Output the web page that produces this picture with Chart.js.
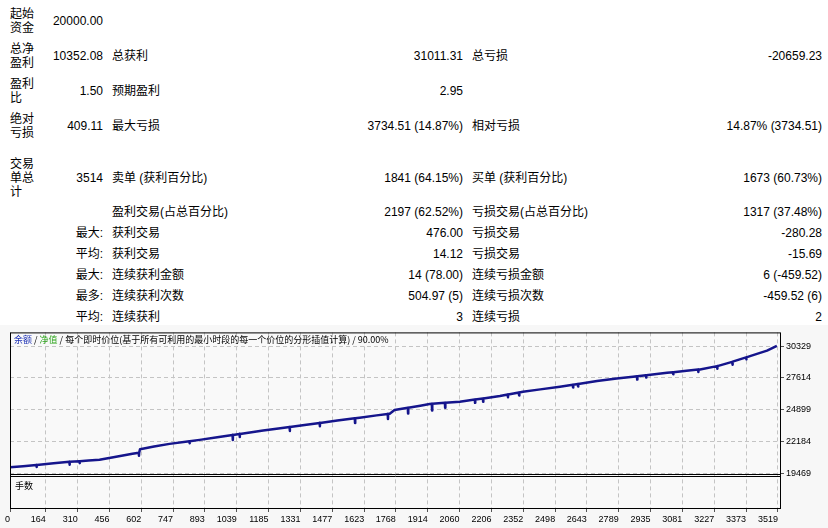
<!DOCTYPE html>
<html>
<head>
<meta charset="utf-8">
<script src="https://cdn.jsdelivr.net/npm/chart.js@4.4.1/dist/chart.umd.min.js"></script>
<style>
  html, body { margin: 0; padding: 0; background: #fff; }
  body { width: 828px; height: 528px; position: relative; overflow: hidden;
         font-family: "Liberation Sans", "Noto Sans CJK SC", sans-serif; font-size: 12px; color: #000; }
  #stats { position: absolute; left: 10px; top: 3px; border-collapse: collapse; table-layout: fixed; width: 818px; }
  #stats td { padding: 0; vertical-align: middle; white-space: nowrap; line-height: 14px; }
  #stats td.lab div { width: 26px; white-space: normal; }
  #stats td.v1 { text-align: right; padding-right: 4px; }
  #stats td.l2 { padding-left: 5px; }
  #stats td.v2 { text-align: right; padding-right: 5px; }
  #stats td.l3 { padding-left: 4px; }
  #stats td.v3 { text-align: right; padding-right: 6px; }
  #box { position: absolute; left: 0; top: 325px; width: 828px; height: 203px; background: #f7f7f7; }
  #title { position: absolute; left: 14px; top: 334px; font-family: "Noto Sans CJK SC", sans-serif;
           font-size: 9px; line-height: 11px; white-space: nowrap; }
  #lots { position: absolute; left: 15px; top: 480px; font-family: "Noto Sans CJK SC", sans-serif;
          font-size: 9px; line-height: 11px; }
</style>
</head>
<body>
<table id="stats">
  <colgroup>
    <col style="width:30px"><col style="width:67px"><col style="width:222px">
    <col style="width:139px"><col style="width:222px"><col style="width:138px">
  </colgroup>
  <tr style="height:35px"><td class="lab"><div>起始资金</div></td><td class="v1">20000.00</td><td class="l2"></td><td class="v2"></td><td class="l3"></td><td class="v3"></td></tr>
  <tr style="height:35px"><td class="lab"><div>总净盈利</div></td><td class="v1">10352.08</td><td class="l2">总获利</td><td class="v2">31011.31</td><td class="l3">总亏损</td><td class="v3">-20659.23</td></tr>
  <tr style="height:35px"><td class="lab"><div>盈利比</div></td><td class="v1">1.50</td><td class="l2">预期盈利</td><td class="v2">2.95</td><td class="l3"></td><td class="v3"></td></tr>
  <tr style="height:35px"><td class="lab"><div>绝对亏损</div></td><td class="v1">409.11</td><td class="l2">最大亏损</td><td class="v2">3734.51 (14.87%)</td><td class="l3">相对亏损</td><td class="v3">14.87% (3734.51)</td></tr>
  <tr style="height:10px"><td colspan="6"></td></tr>
  <tr style="height:49px"><td class="lab"><div>交易单总计</div></td><td class="v1">3514</td><td class="l2">卖单 (获利百分比)</td><td class="v2">1841 (64.15%)</td><td class="l3">买单 (获利百分比)</td><td class="v3">1673 (60.73%)</td></tr>
  <tr style="height:20px"><td class="lab"></td><td class="v1"></td><td class="l2">盈利交易(占总百分比)</td><td class="v2">2197 (62.52%)</td><td class="l3">亏损交易(占总百分比)</td><td class="v3">1317 (37.48%)</td></tr>
  <tr style="height:21px"><td class="lab"></td><td class="v1">最大:</td><td class="l2">获利交易</td><td class="v2">476.00</td><td class="l3">亏损交易</td><td class="v3">-280.28</td></tr>
  <tr style="height:21px"><td class="lab"></td><td class="v1">平均:</td><td class="l2">获利交易</td><td class="v2">14.12</td><td class="l3">亏损交易</td><td class="v3">-15.69</td></tr>
  <tr style="height:21px"><td class="lab"></td><td class="v1">最大:</td><td class="l2">连续获利金额</td><td class="v2">14 (78.00)</td><td class="l3">连续亏损金额</td><td class="v3">6 (-459.52)</td></tr>
  <tr style="height:21px"><td class="lab"></td><td class="v1">最多:</td><td class="l2">连续获利次数</td><td class="v2">504.97 (5)</td><td class="l3">连续亏损次数</td><td class="v3">-459.52 (6)</td></tr>
  <tr style="height:21px"><td class="lab"></td><td class="v1">平均:</td><td class="l2">连续获利</td><td class="v2">3</td><td class="l3">连续亏损</td><td class="v3">2</td></tr>
</table>

<div id="box"><canvas id="balanceChart" width="828" height="203"></canvas></div>
<div id="title"><span style="color:#1e32b4">余额</span> / <span style="color:#2fa51e">净值</span> / 每个即时价位(基于所有可利用的最小时段的每一个价位的分形插值计算) / 90.00%</div>
<div id="lots">手数</div>

<script>
// trade number and balance (the short dips are equity drawdowns)
const tradeNo = [
  0, 60, 121, 122, 123, 134, 200, 272, 273, 274, 318, 319, 320, 360, 410, 480, 561,
  590, 591, 592, 596, 660, 731, 822, 823, 824, 869, 950, 1020, 1021, 1022, 1052, 1053, 1054,
  1160, 1230, 1281, 1282, 1283, 1350, 1419, 1420, 1421, 1500, 1580, 1581, 1582, 1602, 1680,
  1731, 1732, 1733, 1740, 1762, 1823, 1824, 1825, 1880, 1923, 1933, 1934, 1935, 1993, 1994, 1995,
  2061, 2130, 2131, 2132, 2167, 2168, 2169, 2245, 2281, 2282, 2283, 2332, 2333, 2334, 2350,
  2430, 2520, 2579, 2580, 2581, 2602, 2603, 2604, 2690, 2780, 2855, 2873, 2874, 2875,
  2914, 2915, 2916, 3011, 3038, 3039, 3040, 3100, 3153, 3154, 3155, 3162, 3240, 3241, 3242,
  3309, 3310, 3311, 3313, 3373, 3374, 3375, 3391, 3469, 3514
];
const balance = [
  20000, 20085, 20181, 20011, 20181, 20201, 20330, 20456, 20201, 20456, 20513, 20343, 20513, 20560, 20626, 20860, 21137,
  21238, 20983, 21238, 21537, 21760, 21988, 22212, 22042, 22212, 22328, 22560, 22750, 22325, 22750, 22839, 22584, 22839,
  23120, 23300, 23435, 23095, 23435, 23600, 23775, 23495, 23775, 23980, 24172, 23772, 24172, 24226, 24420,
  24544, 24119, 24544, 24566, 24881, 25075, 24590, 25075, 25250, 25392, 25406, 24836, 25406, 25491, 25066, 25491,
  25588, 25770, 25490, 25770, 25867, 25587, 25867, 26073, 26198, 25968, 26198, 26376, 26121, 26376, 26439,
  26640, 26864, 27032, 26802, 27032, 27098, 26888, 27098, 27349, 27560, 27715, 27754, 27474, 27754,
  27844, 27644, 27844, 28055, 28107, 27937, 28107, 28220, 28327, 28117, 28327, 28344, 28626, 28396, 28626,
  28988, 28733, 28988, 29009, 29369, 29199, 29369, 29477, 29945, 30352
];
const yTicks = [19469, 22184, 24899, 27614, 30329];
const xTicks = [0, 164, 310, 456, 602, 747, 893, 1039, 1185, 1331, 1477, 1623, 1768, 1914, 2060,
  2206, 2352, 2498, 2643, 2789, 2935, 3081, 3227, 3373, 3519];

const tickFont = { family: 'Liberation Sans', size: 9 };
const gridColor = '#c4c4c4';

const framePlugin = {
  id: 'frame',
  beforeDraw(chart) {
    const a = chart.chartArea, c = chart.ctx;
    c.save();
    c.fillStyle = '#f9f9f9';
    c.fillRect(a.left, a.top, a.right - a.left, a.bottom - a.top);
    c.restore();
  },
  afterDraw(chart) {
    const a = chart.chartArea, c = chart.ctx;
    const mid = Math.round(chart.scales.y.bottom);
    c.save();
    c.strokeStyle = '#000';
    c.lineWidth = 1;
    c.strokeRect(a.left + 0.5, a.top + 0.5, a.right - a.left - 1, a.bottom - a.top - 1);
    c.beginPath();
    c.moveTo(a.left, mid - 0.5); c.lineTo(a.right, mid - 0.5);
    c.moveTo(a.left, mid + 1.5); c.lineTo(a.right, mid + 1.5);
    c.stroke();
    c.restore();
  }
};

new Chart(document.getElementById('balanceChart'), {
  type: 'line',
  data: {
    datasets: [{
      data: tradeNo.map((t, i) => ({ x: t, y: balance[i] })),
      yAxisID: 'y',
      borderColor: '#15158c',
      borderWidth: 2.5,
      borderJoinStyle: 'round',
      pointRadius: 0,
      tension: 0
    }]
  },
  options: {
    responsive: false,
    animation: false,
    events: [],
    layout: { padding: { left: 10, top: 6, right: 0, bottom: 0 } },
    plugins: { legend: { display: false }, tooltip: { enabled: false } },
    scales: {
      x: {
        type: 'linear', min: 0, max: 3533,
        afterBuildTicks: s => { s.ticks = xTicks.map(v => ({ value: v })); },
        afterFit: s => { s.height = 19; },
        ticks: { align: 'end', color: '#000', font: tickFont, padding: 2, maxRotation: 0, autoSkip: false,
                 callback: v => String(v) },
        grid: { color: gridColor, tickLength: 3, tickColor: '#555' },
        border: { display: false, dash: [4, 3] }
      },
      y: {
        position: 'right', stack: 'panes', stackWeight: 143.5,
        min: 19350, max: 31503,
        afterBuildTicks: s => { s.ticks = yTicks.map(v => ({ value: v })); },
        afterFit: s => { s.width = 47; },
        ticks: { color: '#000', font: tickFont, padding: 2, callback: v => String(v) },
        grid: { color: gridColor, tickLength: 3, tickColor: '#555' },
        border: { display: false, dash: [4, 3] }
      },
      lots: {
        position: 'right', stack: 'panes', stackWeight: 34.5,
        min: 0, max: 1,
        ticks: { display: false },
        grid: { display: false },
        border: { display: false }
      }
    }
  },
  plugins: [framePlugin]
});
</script>
</body>
</html>
